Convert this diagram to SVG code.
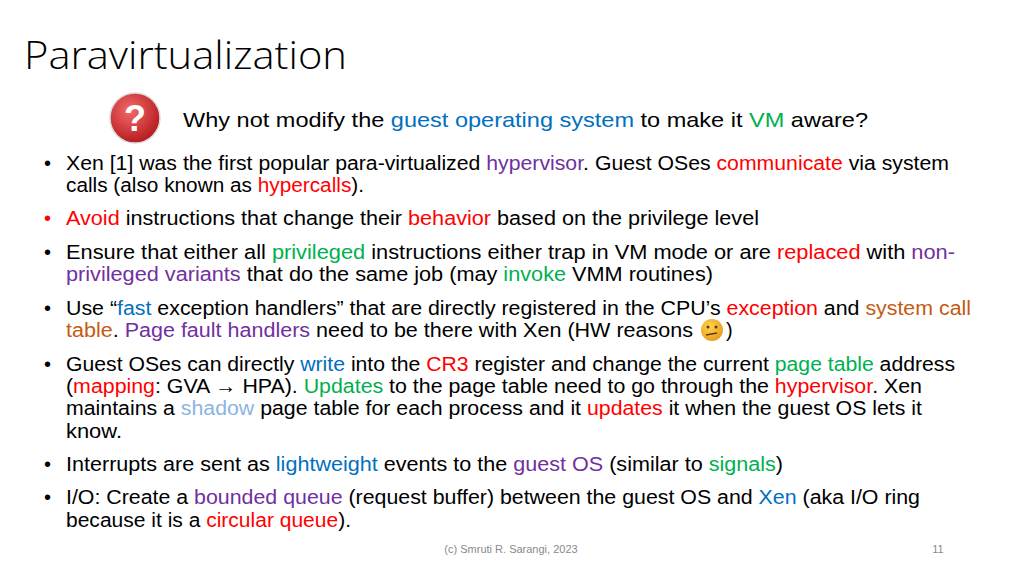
<svg xmlns="http://www.w3.org/2000/svg" width="1024" height="576" viewBox="0 0 1024 576">
<style>
text{font-family:"Liberation Sans",Arial,sans-serif;fill:#000}
.b{font-size:20px}
.bl{fill:#0070C0}.pu{fill:#7030A0}.r{fill:#FF0000}.g{fill:#00B050}.o{fill:#C55A11}
.sh{fill:#8DB3E2}
</style>
<defs>
<radialGradient id="qg" cx="0.4" cy="0.35" r="0.7">
<stop offset="0" stop-color="#f26b6b"/><stop offset="1" stop-color="#b3161b"/>
</radialGradient>
<radialGradient id="eg" cx="0.4" cy="0.35" r="0.7">
<stop offset="0" stop-color="#ffd54a"/><stop offset="1" stop-color="#e69a1c"/>
</radialGradient>
</defs>
<rect width="1024" height="576" fill="#fff"/>
<text x="24" y="69" font-size="38" textLength="323" lengthAdjust="spacingAndGlyphs" style="font-family:'Open Sans','Liberation Sans',sans-serif;font-weight:300">Paravirtualization</text>
<g id="qicon">
<circle cx="135" cy="118" r="25" fill="url(#qg)" stroke="#d9d9d9" stroke-width="1.5"/>
<text x="135" y="131" font-size="36" text-anchor="middle" style="fill:#fff;font-weight:bold">?</text>
</g>
<text x="183" y="127" font-size="21" textLength="685" lengthAdjust="spacingAndGlyphs">Why not modify the <tspan class="bl">guest operating system</tspan> to make it <tspan class="g">VM</tspan> aware?</text>
<g class="b">
<text x="44" y="170">•</text>
<text x="66" y="170" textLength="883" lengthAdjust="spacingAndGlyphs">Xen [1] was the first popular para-virtualized <tspan class="pu">hypervisor</tspan>. Guest OSes <tspan class="r">communicate</tspan> via system</text>
<text x="66" y="192" textLength="298" lengthAdjust="spacingAndGlyphs">calls (also known as <tspan class="r">hypercalls</tspan>).</text>
<text x="44" y="225" class="r">•</text>
<text x="66" y="225" textLength="693" lengthAdjust="spacingAndGlyphs"><tspan class="r">Avoid</tspan> instructions that change their <tspan class="r">behavior</tspan> based on the privilege level</text>
<text x="44" y="259">•</text>
<text x="66" y="259" textLength="889" lengthAdjust="spacingAndGlyphs">Ensure that either all <tspan class="g">privileged</tspan> instructions either trap in VM mode or are <tspan class="r">replaced</tspan> with <tspan class="pu">non-</tspan></text>
<text x="66" y="281" textLength="647" lengthAdjust="spacingAndGlyphs"><tspan class="pu">privileged variants</tspan> that do the same job (may <tspan class="g">invoke</tspan> VMM routines)</text>
<text x="44" y="315">•</text>
<text x="66" y="315" textLength="905" lengthAdjust="spacingAndGlyphs">Use “<tspan class="bl">fast</tspan> exception handlers” that are directly registered in the CPU’s <tspan class="r">exception</tspan> and <tspan class="o">system call</tspan></text>
<text x="66" y="337" textLength="627" lengthAdjust="spacingAndGlyphs"><tspan class="o">table</tspan>. <tspan class="pu">Page fault handlers</tspan> need to be there with Xen (HW reasons</text>
<g id="emoji">
<circle cx="712" cy="330" r="11" fill="url(#eg)"/>
<circle cx="708" cy="327" r="1.5" fill="#5a3a10"/><circle cx="716" cy="327" r="1.5" fill="#5a3a10"/>
<path d="M706 335 L717 333" stroke="#5a3a10" stroke-width="1.5" fill="none"/>
</g>
<text x="726" y="337">)</text>
<text x="44" y="371">•</text>
<text x="66" y="371" textLength="889" lengthAdjust="spacingAndGlyphs">Guest OSes can directly <tspan class="bl">write</tspan> into the <tspan class="r">CR3</tspan> register and change the current <tspan class="g">page table</tspan> address</text>
<text x="66" y="393" textLength="856" lengthAdjust="spacingAndGlyphs">(<tspan class="r">mapping</tspan>: GVA <tspan style="font-weight:bold">→</tspan> HPA). <tspan class="g">Updates</tspan> to the page table need to go through the <tspan class="r">hypervisor</tspan>. Xen</text>
<text x="66" y="415" textLength="856" lengthAdjust="spacingAndGlyphs">maintains a <tspan class="sh">shadow</tspan> page table for each process and it <tspan class="r">updates</tspan> it when the guest OS lets it</text>
<text x="66" y="438" textLength="56" lengthAdjust="spacingAndGlyphs">know.</text>
<text x="44" y="471">•</text>
<text x="66" y="471" textLength="717" lengthAdjust="spacingAndGlyphs">Interrupts are sent as <tspan class="bl">lightweight</tspan> events to the <tspan class="pu">guest OS</tspan> (similar to <tspan class="g">signals</tspan>)</text>
<text x="44" y="504">•</text>
<text x="66" y="504" textLength="854" lengthAdjust="spacingAndGlyphs">I/O: Create a <tspan class="pu">bounded queue</tspan> (request buffer) between the guest OS and <tspan class="bl">Xen</tspan> (aka I/O ring</text>
<text x="66" y="527" textLength="285" lengthAdjust="spacingAndGlyphs">because it is a <tspan class="r">circular queue</tspan>).</text>
</g>
<text x="511" y="553" font-size="11" text-anchor="middle" style="fill:#898989">(c) Smruti R. Sarangi, 2023</text>
<text x="938" y="553" font-size="11" text-anchor="middle" style="fill:#898989">11</text>
</svg>
